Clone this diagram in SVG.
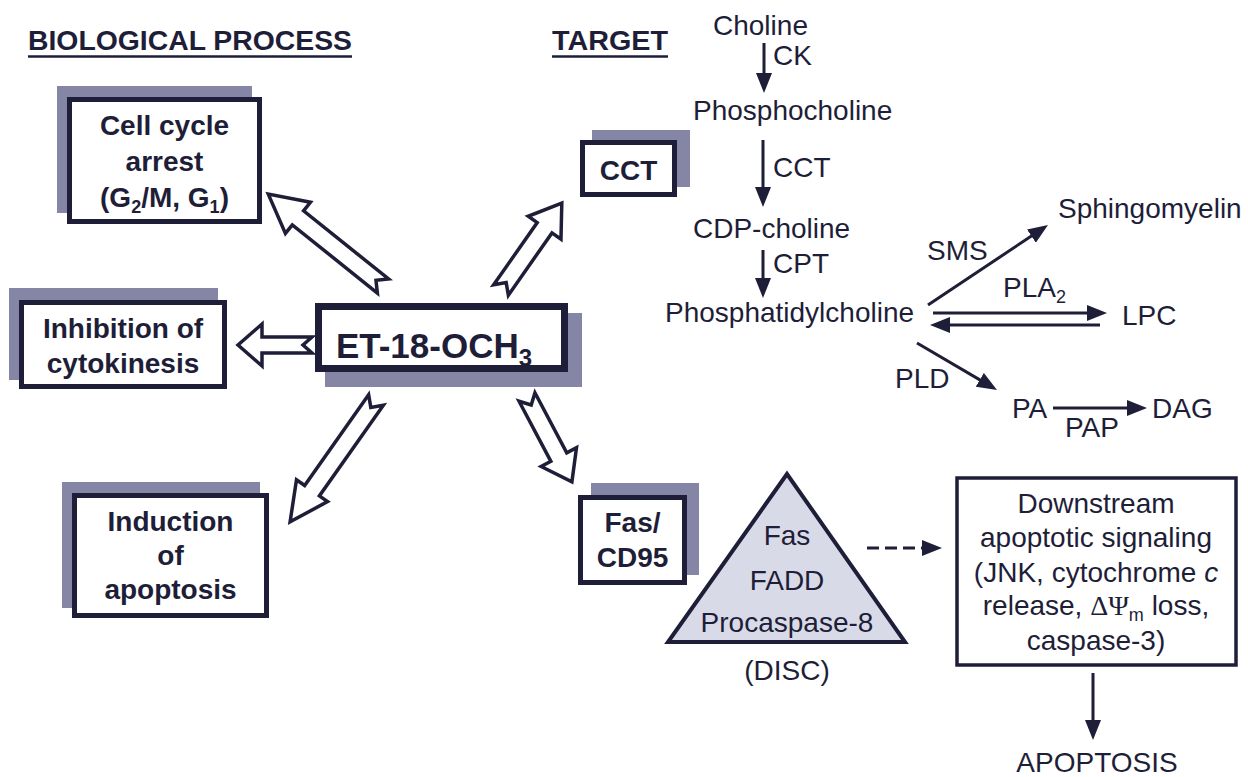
<svg xmlns="http://www.w3.org/2000/svg" width="1248" height="777" viewBox="0 0 1248 777">
<style>
.t{font-family:"Liberation Sans",Arial,sans-serif;fill:#1e1e38}
.b{font-weight:bold;font-size:28px}
.r{font-size:28px}
.m{text-anchor:middle}
.shadow{fill:#8585a5}
.box{fill:#fff;stroke:#1e1e38;stroke-width:5}
.blk{fill:#fff;stroke:#1e1e38;stroke-width:3.5;stroke-linejoin:miter}
.ln{stroke:#1e1e38;stroke-width:3;fill:none}
</style>
<defs>
<marker id="ah" viewBox="0 0 20 16" refX="10" refY="8" markerWidth="20" markerHeight="16" markerUnits="userSpaceOnUse" orient="auto">
<path d="M0,0 L20,8 L0,16 Z" fill="#1e1e38"/>
</marker>
</defs>
<rect width="1248" height="777" fill="#fff"/>

<g id="headings">
<text class="t" x="28" y="50" font-weight="bold" font-size="27.5" textLength="324" lengthAdjust="spacingAndGlyphs">BIOLOGICAL PROCESS</text>
<line x1="28" y1="56.5" x2="352" y2="56.5" stroke="#1e1e38" stroke-width="2.5"/>
<text class="t" x="552" y="50" font-weight="bold" font-size="27.5" textLength="116" lengthAdjust="spacingAndGlyphs">TARGET</text>
<line x1="552" y1="56.5" x2="668" y2="56.5" stroke="#1e1e38" stroke-width="2.5"/>
</g>

<g id="cellcycle">
<rect class="shadow" x="57" y="86" width="195" height="127"/>
<rect class="box" x="69.5" y="99.5" width="190" height="122"/>
<text class="t b m" x="164.5" y="135">Cell cycle</text>
<text class="t b m" x="164.5" y="171">arrest</text>
<text class="t b m" x="164.5" y="207">(G<tspan font-size="18" dy="6">2</tspan><tspan dy="-6">/M, G</tspan><tspan font-size="18" dy="6">1</tspan><tspan dy="-6">)</tspan></text>
</g>

<g id="inhibition">
<rect class="shadow" x="9" y="288" width="209" height="92"/>
<rect class="box" x="21.5" y="302.5" width="203" height="84"/>
<text class="t b m" x="123" y="338">Inhibition of</text>
<text class="t b m" x="123" y="373">cytokinesis</text>
</g>

<g id="induction">
<rect class="shadow" x="62" y="482" width="198" height="126"/>
<rect class="box" x="74.5" y="495.5" width="192" height="120"/>
<text class="t b m" x="170.5" y="531">Induction</text>
<text class="t b m" x="170.5" y="565">of</text>
<text class="t b m" x="170.5" y="599">apoptosis</text>
</g>

<g id="et18">
<rect class="shadow" x="325" y="313" width="257" height="74"/>
<rect x="318.5" y="306.5" width="246" height="62" fill="#fff" stroke="#1e1e38" stroke-width="7"/>
<text class="t m" x="434" y="358" font-weight="bold" font-size="35">ET-18-OCH<tspan font-size="24" dy="8">3</tspan></text>
</g>

<g id="cct">
<rect class="shadow" x="592" y="130" width="98" height="57"/>
<rect class="box" x="582.5" y="142.5" width="92" height="52"/>
<text class="t b m" x="628.5" y="180">CCT</text>
</g>

<g id="fas">
<rect class="shadow" x="591" y="483" width="108" height="92"/>
<rect class="box" x="580.5" y="497.5" width="104" height="85"/>
<text class="t b m" x="632.5" y="532">Fas/</text>
<text class="t b m" x="632.5" y="567">CD95</text>
</g>

<g id="disc">
<polygon points="787,474 668,642 905,642" fill="#d9dae8" stroke="#1e1e38" stroke-width="4" stroke-linejoin="miter"/>
<text class="t r m" x="787" y="545">Fas</text>
<text class="t r m" x="787" y="590">FADD</text>
<text class="t r m" x="787" y="632">Procaspase-8</text>
<text class="t r m" x="787" y="680">(DISC)</text>
</g>

<g id="downstream">
<rect x="957" y="478" width="279" height="187" fill="#fff" stroke="#1e1e38" stroke-width="3.5"/>
<text class="t r m" x="1096" y="513">Downstream</text>
<text class="t r m" x="1096" y="547">apoptotic signaling</text>
<text class="t r m" x="1096" y="582">(JNK, cytochrome <tspan font-style="italic">c</tspan></text>
<text class="t r m" x="1096" y="615">release, <tspan font-family="Liberation Serif,serif">ΔΨ</tspan><tspan font-size="18" dy="6">m</tspan><tspan dy="-6"> loss,</tspan></text>
<text class="t r m" x="1096" y="650">caspase-3)</text>
</g>

<g id="apoptosis">
<text class="t r m" x="1097" y="772">APOPTOSIS</text>
</g>

<g id="pathway">
<text class="t r" x="713" y="35">Choline</text>
<text class="t r" x="773" y="65">CK</text>
<text class="t r" x="693" y="120">Phosphocholine</text>
<text class="t r" x="773" y="177">CCT</text>
<text class="t r" x="693" y="238">CDP-choline</text>
<text class="t r" x="773" y="273">CPT</text>
<text class="t r" x="665" y="322">Phosphatidylcholine</text>
<text class="t r" x="1058" y="218">Sphingomyelin</text>
<text class="t r" x="927" y="260">SMS</text>
<text class="t r" x="1003" y="297">PLA<tspan font-size="18" dy="6">2</tspan></text>
<text class="t r" x="1122" y="325">LPC</text>
<text class="t r" x="895" y="388">PLD</text>
<text class="t r" x="1012" y="418">PA</text>
<text class="t r" x="1065" y="437">PAP</text>
<text class="t r" x="1152" y="418">DAG</text>
</g>

<g id="connectors">
<path class="blk" transform="translate(383,286) rotate(218.7)" d="M0,-9 L109,-9 L109,-20 L147,0 L109,20 L109,9 L0,9 L9,0 Z"/>
<path class="blk" transform="translate(501,290) rotate(-55)" d="M0,-9 L76,-9 L76,-20 L106,0 L76,20 L76,9 L0,9 L9,0 Z"/>
<path class="blk" transform="translate(312,345) rotate(180)" d="M0,-8 L50,-8 L50,-21 L74,0 L50,21 L50,8 L0,8 L9,0 Z"/>
<path class="blk" transform="translate(376,400) rotate(125.2)" d="M0,-9 L111,-9 L111,-19 L149,0 L111,19 L111,9 L0,9 L9,0 Z"/>
<path class="blk" transform="translate(527,397) rotate(62.1)" d="M0,-9 L68,-9 L68,-20 L96,0 L68,20 L68,9 L0,9 L9,0 Z"/>

<line class="ln" x1="764" y1="43" x2="764" y2="83" marker-end="url(#ah)"/>
<line class="ln" x1="763" y1="140" x2="763" y2="197" marker-end="url(#ah)"/>
<line class="ln" x1="763" y1="250" x2="763" y2="288" marker-end="url(#ah)"/>
<line class="ln" x1="928" y1="305" x2="1039.7" y2="230.5" marker-end="url(#ah)"/>
<line class="ln" x1="933" y1="313" x2="1097" y2="313" marker-end="url(#ah)"/>
<line class="ln" x1="1100" y1="325" x2="940" y2="325" marker-end="url(#ah)"/>
<line class="ln" x1="917" y1="343" x2="988.4" y2="384.9" marker-end="url(#ah)"/>
<line class="ln" x1="1053" y1="408" x2="1137" y2="408" marker-end="url(#ah)"/>
<line class="ln" x1="867" y1="548" x2="932" y2="548" stroke-dasharray="12,6" marker-end="url(#ah)"/>
<line class="ln" x1="1093" y1="673" x2="1093" y2="730" marker-end="url(#ah)"/>
</g>
</svg>
